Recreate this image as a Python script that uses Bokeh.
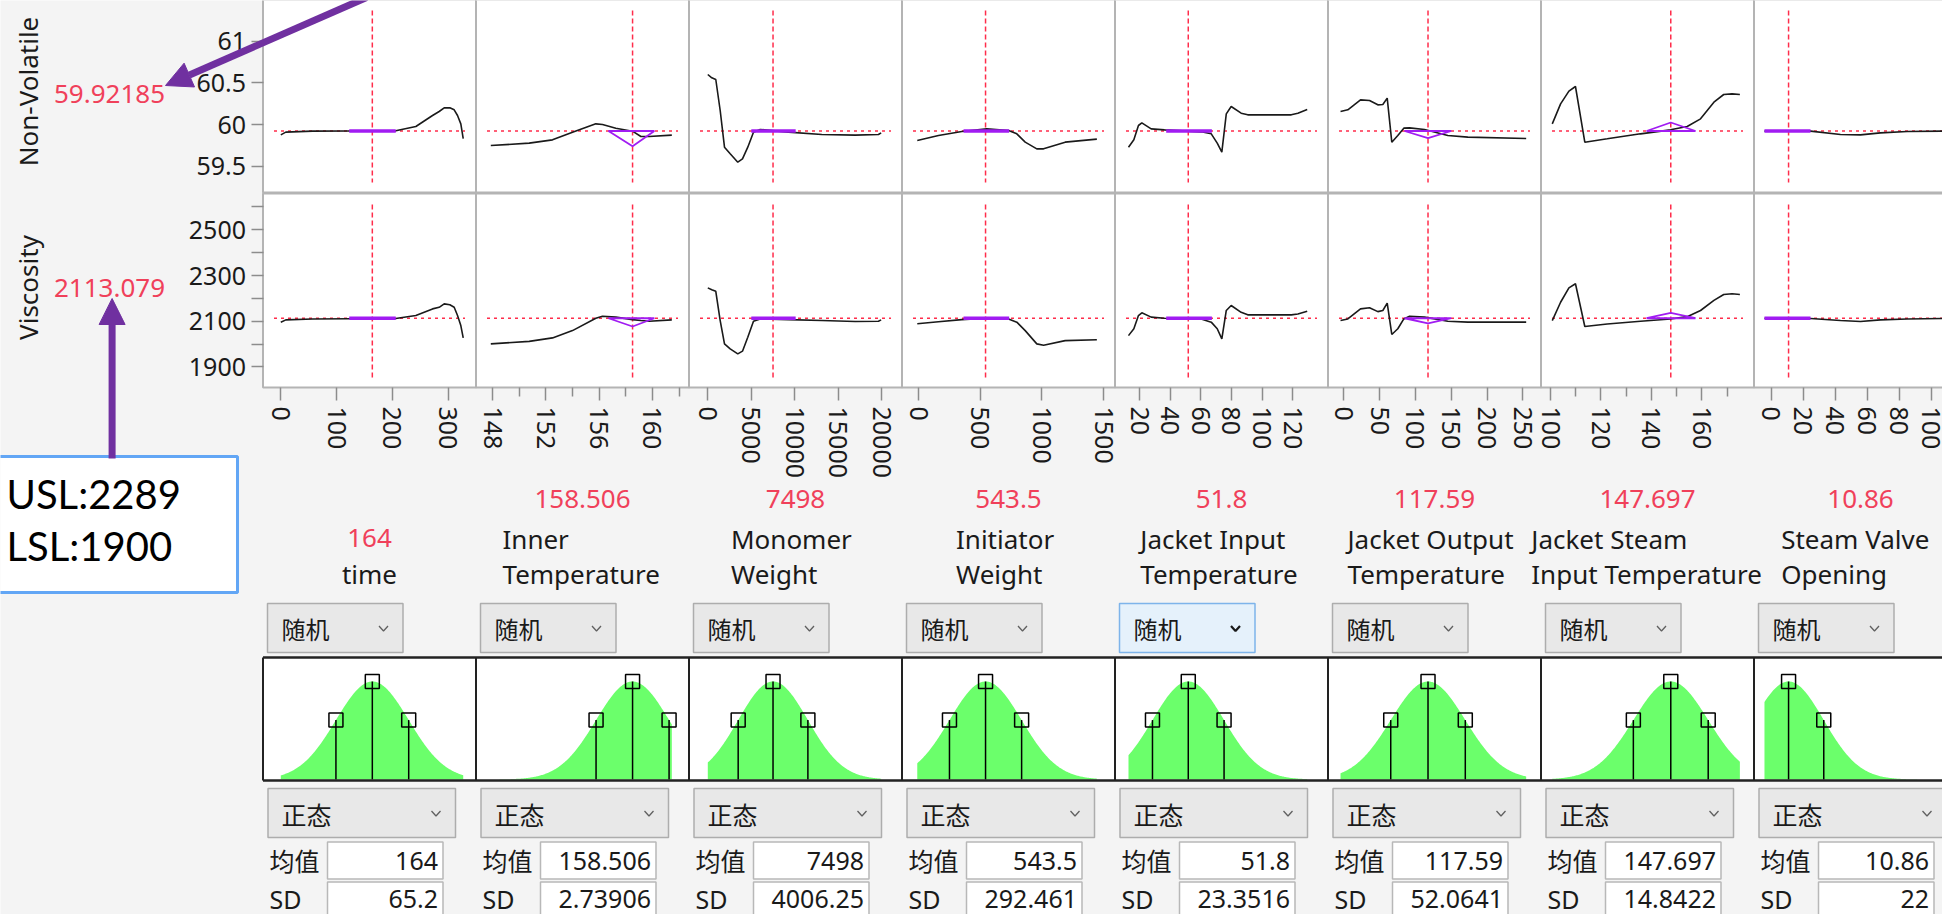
import numpy as np
from bokeh.plotting import figure
from bokeh.models import Range1d, LinearAxis, FixedTicker, Arrow, NormalHead
from bokeh.core.properties import value
from bokeh.embed import file_html
from bokeh.resources import INLINE

# ---------------- data ----------------
factor_lines = [["time"], ["Inner", "Temperature"], ["Monomer", "Weight"], ["Initiator", "Weight"],
                ["Jacket Input", "Temperature"], ["Jacket Output", "Temperature"],
                ["Jacket Steam", "Input Temperature"], ["Steam Valve", "Opening"]]
factor_current = [164, 158.506, 7498, 543.5, 51.8, 117.59, 147.697, 10.86]
factor_current_text = ["164", "158.506", "7498", "543.5", "51.8", "117.59", "147.697", "10.86"]
factor_sd = [65.2, 2.73906, 4006.25, 292.461, 23.3516, 52.0641, 14.8422, 22]
factor_sd_text = ["65.2", "2.73906", "4006.25", "292.461", "23.3516", "52.0641", "14.8422", "22"]
factor_axis_lo = [-31.9, 146.76, -2160, -133.8, 4.0, -22.1, 96.23, -10.75]
factor_axis_hi = [349.8, 162.74, 22321, 1593, 142.96, 275.4, 180.7, 122.4]
factor_major_ticks = [[0, 100, 200, 300], [148, 152, 156, 160], [0, 5000, 10000, 15000, 20000],
                      [0, 500, 1000, 1500], [20, 40, 60, 80, 100, 120], [0, 50, 100, 150, 200, 250],
                      [100, 120, 140, 160], [0, 20, 40, 60, 80, 100]]
factor_minor_ticks = [[], [150, 154, 158, 162], [], [], [], [], [110, 130, 150, 170], []]

response_names = ["Non-Volatile", "Viscosity"]
response_current = [59.92185, 2113.079]
response_current_text = ["59.92185", "2113.079"]
response_axis_lo = [59.184, 1810]
response_axis_hi = [61.5, 2659]
response_major_ticks = [[59.5, 60, 60.5, 61], [1900, 2100, 2300, 2500]]
response_tick_text = [["59.5", "60", "60.5", "61"], ["1900", "2100", "2300", "2500"]]
response_minor_ticks = [[], [2000, 2200, 2400, 2600]]

spec_usl = 2289
spec_lsl = 1900

curve_x = [
    [0, 9, 56.8, 122.6, 206, 242, 271.9, 283.8, 292.8, 302.9, 310.7, 316.7, 322.6, 326.9],
    [147.87, 150.75, 152.5, 154.0, 155.75, 156.25, 157.25, 158.5, 159.13, 159.75, 161.45],
    [0, 460, 919, 1425, 1919, 2574, 3447, 3987, 4596, 5251, 6021, 9272, 13099, 16936, 19613, 19924],
    [-10, 162, 351, 554, 730, 797, 865, 959, 1014, 1189, 1446],
    [12.8, 16.3, 19.3, 21.5, 27.6, 36.3, 60.2, 66.8, 70.7, 73.7, 76.6, 79.8, 86.3, 90.6, 119.0, 123.3, 129.4],
    [-4.6, 5.6, 23.3, 35.9, 47.5, 54.5, 60.6, 67.0, 75.4, 83.8, 91.8, 112.7, 145.3, 173.2, 254.7],
    [100.7, 104.0, 107.3, 109.9, 113.6, 122.5, 135.7, 147.6, 154.2, 159.5, 164.8, 168.7, 172.0, 175.1],
    [-4.2, 24.6, 43.3, 55.8, 68.3, 85, 107, 115],
]
curve_nv = [
    [59.876, 59.908, 59.92, 59.922, 59.925, 59.976, 60.108, 60.156, 60.2, 60.2, 60.176, 60.108, 60.008, 59.83],
    [59.748, 59.776, 59.816, 59.908, 60.008, 60.0, 59.956, 59.92, 59.856, 59.856, 59.872],
    [60.6, 60.56, 60.54, 60.168, 59.728, 59.648, 59.548, 59.588, 59.728, 59.908, 59.94, 59.908, 59.88, 59.872, 59.88, 59.9],
    [59.808, 59.868, 59.916, 59.948, 59.928, 59.888, 59.788, 59.708, 59.708, 59.788, 59.824],
    [59.728, 59.816, 59.988, 60.02, 59.948, 59.936, 59.912, 59.888, 59.776, 59.668, 60.128, 60.216, 60.136, 60.116, 60.116, 60.136, 60.18],
    [60.156, 60.176, 60.296, 60.288, 60.236, 60.24, 60.316, 59.788, 59.868, 59.956, 59.96, 59.94, 59.868, 59.848, 59.832],
    [60.008, 60.248, 60.4, 60.456, 59.788, 59.828, 59.888, 59.936, 59.976, 60.068, 60.268, 60.36, 60.368, 60.36],
    [59.92, 59.92, 59.88, 59.876, 59.9, 59.916, 59.92, 59.92],
]
curve_visc = [
    [2096, 2106, 2110, 2111, 2112, 2125, 2154, 2161, 2176, 2172, 2161, 2125, 2081, 2027],
    [2001, 2012, 2027, 2059, 2113, 2122, 2118, 2107, 2103, 2100, 2106],
    [2246, 2238, 2231, 2103, 2001, 1979, 1957, 1969, 2030, 2100, 2110, 2107, 2103, 2099, 2100, 2106],
    [2089, 2098, 2107, 2113, 2110, 2096, 2059, 2001, 1995, 2015, 2019],
    [2037, 2067, 2125, 2137, 2118, 2113, 2110, 2096, 2067, 2023, 2147, 2169, 2139, 2128, 2128, 2132, 2144],
    [2103, 2110, 2154, 2159, 2142, 2147, 2179, 2042, 2067, 2110, 2122, 2118, 2100, 2096, 2096],
    [2103, 2183, 2246, 2264, 2077, 2088, 2100, 2110, 2120, 2147, 2191, 2217, 2220, 2217],
    [2113, 2112, 2103, 2099, 2106, 2110, 2112, 2112],
]

purple_kind = ["bar", "tri", "bar", "bar", "bar", "tri", "tri", "bar"]
purple_lo = [122.6, 156.7, 5000, 365, 37.4, 84.8, 138.1, -4.2]
purple_hi = [206, 160.14, 10100, 735, 67.2, 150, 157.5, 24.6]
purple_apex_nv = [59.92185, 59.74, 59.92185, 59.92185, 59.92185, 59.836, 60.024, 59.92185]
purple_apex_visc = [2113.079, 2077, 2113.079, 2113.079, 2113.079, 2091, 2137, 2113.079]

mode_random = "随机"
mode_normal = "正态"
label_mean = "均值"
label_sd = "SD"

# ---------------- layout / style ----------------
X0, X1, Y0, Y1 = 0, 1942, 0, 914
COL_L0, COL_W, NCOL = 262.5, 213.0, 8
col_left = [COL_L0 + COL_W * i for i in range(NCOL)]
col_right = [l + COL_W for l in col_left]
col_mid = [l + COL_W / 2 for l in col_left]
ROW_PIX = [(-1.0, 192.0), (193.0, 387.0)]
DIST_TOP, DIST_BOT, DIST_ZERO, DIST_ONE = 657.0, 780.0, 779.0, 681.0
name_offset = [None, 26.5, 42, 54, 25.3, 19.5, -9.7, 27.2]
highlight_col = 4

BG = "#f4f4f4"
RED_TXT = "#f0405a"
RED_LN = "#ff2d4b"
PURPLE = "#a11cf2"
ARROW = "#7030a0"
BORDER = "#b4b4b4"
GREEN = "#6bff6b"
FONT = "Noto Sans"
CJK = "Noto Sans CJK SC"


def x_extra(lo, hi, L, R):
    k = (hi - lo) / (R - L)
    s = lo - (L - X0) * k
    return Range1d(start=s, end=s + (X1 - X0) * k)


def y_extra(lo, hi, Pt, Pb):
    k = (hi - lo) / (Pb - Pt)
    s = lo - (Y1 - Pb) * k
    return Range1d(start=s, end=s + (Y1 - Y0) * k)


p = figure(width=X1 - X0, height=Y1 - Y0, x_range=Range1d(X0, X1), y_range=Range1d(Y1, Y0),
           toolbar_location=None, output_backend="svg", x_axis_location=None, y_axis_location=None,
           min_border=0, outline_line_color=None, background_fill_color=BG, border_fill_color=BG)
p.grid.visible = False

p.extra_x_ranges = {f"x{i}": x_extra(factor_axis_lo[i], factor_axis_hi[i], col_left[i], col_right[i])
                    for i in range(NCOL)}
dist_lo = -(DIST_BOT - DIST_ZERO) / (DIST_ZERO - DIST_ONE)
dist_hi = 1 + (DIST_ONE - DIST_TOP) / (DIST_ZERO - DIST_ONE)
p.extra_y_ranges = {
    "r0": y_extra(response_axis_lo[0], response_axis_hi[0], ROW_PIX[0][0], ROW_PIX[0][1]),
    "r1": y_extra(response_axis_lo[1], response_axis_hi[1], ROW_PIX[1][0], ROW_PIX[1][1]),
    "dist": y_extra(dist_lo, dist_hi, DIST_TOP, DIST_BOT),
}

# profiler panels
for r in range(2):
    p.quad(left=col_left, right=col_right, top=[ROW_PIX[r][0]] * NCOL, bottom=[ROW_PIX[r][1]] * NCOL,
           fill_color="white", line_color=BORDER, line_width=2)

resp_curves = [curve_nv, curve_visc]
resp_apex = [purple_apex_nv, purple_apex_visc]
for i in range(NCOL):
    xr = f"x{i}"
    for r in range(2):
        yr = f"r{r}"
        p.segment(x0=[factor_current[i]], x1=[factor_current[i]], y0=[ROW_PIX[r][0] + 11], y1=[ROW_PIX[r][1] - 10],
                  x_range_name=xr, line_color=RED_LN, line_dash="5 3", line_width=1.5)
        p.segment(x0=[col_left[i] + 11], x1=[col_right[i] - 11], y0=[response_current[r]], y1=[response_current[r]],
                  y_range_name=yr, line_color=RED_LN, line_dash="3 4", line_width=1.6)
        p.line(curve_x[i], resp_curves[r][i], x_range_name=xr, y_range_name=yr, line_color="#1a1a1a", line_width=1.6)
        if purple_kind[i] == "bar":
            p.segment(x0=[purple_lo[i]], x1=[purple_hi[i]], y0=[response_current[r]], y1=[response_current[r]],
                      x_range_name=xr, y_range_name=yr, line_color=PURPLE, line_width=3.5)
        else:
            p.patch([purple_lo[i], purple_hi[i], factor_current[i]],
                    [response_current[r], response_current[r], resp_apex[r][i]],
                    x_range_name=xr, y_range_name=yr, fill_color=None, line_color=PURPLE, line_width=1.8)

# axes
for i in range(NCOL):
    ax = LinearAxis(x_range_name=f"x{i}", fixed_location=ROW_PIX[1][1],
                    bounds=(factor_axis_lo[i], factor_axis_hi[i]),
                    ticker=FixedTicker(ticks=factor_major_ticks[i], minor_ticks=factor_minor_ticks[i]),
                    major_label_orientation="vertical", axis_line_color=None,
                    major_tick_in=0, major_tick_out=13, minor_tick_in=0, minor_tick_out=9,
                    major_tick_line_color="#8c8c8c", minor_tick_line_color="#8c8c8c",
                    major_tick_line_width=1.5, minor_tick_line_width=1.5,
                    major_label_standoff=6, major_label_text_font=FONT,
                    major_label_text_font_size="25px", major_label_text_color="#1a1a1a")
    p.add_layout(ax, "below")
for r in range(2):
    ay = LinearAxis(y_range_name=f"r{r}", fixed_location=COL_L0,
                    bounds=(response_axis_lo[r], response_axis_hi[r]),
                    ticker=FixedTicker(ticks=response_major_ticks[r], minor_ticks=response_minor_ticks[r]),
                    major_label_overrides={t: s for t, s in zip(response_major_ticks[r], response_tick_text[r])},
                    axis_line_color=None, major_tick_in=0, major_tick_out=12, minor_tick_in=0, minor_tick_out=12,
                    major_tick_line_color="#8c8c8c", minor_tick_line_color="#8c8c8c",
                    major_tick_line_width=1.5, minor_tick_line_width=1.5,
                    major_label_standoff=5, major_label_text_font=FONT,
                    major_label_text_font_size="25px", major_label_text_color="#1a1a1a")
    p.add_layout(ay, "left")

# response labels
p.text(x=[27, 27], y=[91, 287], text=response_names, angle=np.pi / 2, text_align="center",
       text_baseline="middle", text_font=value(FONT), text_font_size="26px", text_color="#1a1a1a")
p.text(x=[109, 109], y=[93, 287], text=response_current_text, text_align="center", text_baseline="middle",
       text_font=value(FONT), text_font_size="26px", text_color=RED_TXT)

# factor names and current values
for i, lines in enumerate(factor_lines):
    if len(lines) == 1:
        p.text(x=[col_mid[i]], y=[573], text=lines, text_align="center", text_baseline="middle",
               text_font=value(FONT), text_font_size="26px", text_color="#1a1a1a")
        p.text(x=[col_mid[i]], y=[537], text=[factor_current_text[i]], text_align="center",
               text_baseline="middle", text_font=value(FONT), text_font_size="26px", text_color=RED_TXT)
    else:
        lx = col_left[i] + name_offset[i]
        p.text(x=[lx, lx], y=[538, 573], text=lines, text_align="left", text_baseline="middle",
               text_font=value(FONT), text_font_size="26px", text_color="#1a1a1a")
        p.text(x=[col_mid[i]], y=[498], text=[factor_current_text[i]], text_align="center",
               text_baseline="middle", text_font=value(FONT), text_font_size="26px", text_color=RED_TXT)


def chevron(cx, cy, color, width):
    p.line([cx - 4.5, cx, cx + 4.5], [cy - 2.5, cy + 2.5, cy - 2.5], line_color=color, line_width=width)


# "随机" dropdowns
for i in range(NCOL):
    hi_ = (i == highlight_col)
    p.quad(left=[col_left[i] + 4.5], right=[col_left[i] + 140], top=[603], bottom=[652],
           fill_color="#e5f1fb" if hi_ else "#e8e8e8", line_color="#7eb4ea" if hi_ else "#adadad", line_width=1.5)
    p.text(x=[col_left[i] + 18.5], y=[628], text=[mode_random], text_baseline="middle",
           text_font=value(CJK), text_font_size="24px", text_color="#1a1a1a")
    chevron(col_left[i] + 120.5, 628, "#1a1a1a" if hi_ else "#606060", 2.2 if hi_ else 1.3)

# distribution strip
p.quad(left=[COL_L0], right=[X1 + 30], top=[DIST_TOP], bottom=[DIST_BOT], fill_color="white", line_color=None)
for i in range(NCOL):
    xr = f"x{i}"
    lo, hi = min(curve_x[i]), max(curve_x[i])
    xs = np.linspace(lo, hi, 240)
    dens = np.exp(-0.5 * ((xs - factor_current[i]) / factor_sd[i]) ** 2)
    p.varea(x=xs, y1=np.zeros_like(xs), y2=dens, x_range_name=xr, y_range_name="dist", fill_color=GREEN)
    mk_x = [factor_current[i] - factor_sd[i], factor_current[i], factor_current[i] + factor_sd[i]]
    mk_y = [np.exp(-0.5), 1.0, np.exp(-0.5)]
    keep = [k for k in range(3) if factor_axis_lo[i] < mk_x[k] < factor_axis_hi[i]]
    mx = [mk_x[k] for k in keep]
    my = [mk_y[k] for k in keep]
    p.segment(x0=mx, x1=mx, y0=[0] * len(mx), y1=my, x_range_name=xr, y_range_name="dist",
              line_color="black", line_width=1.5)
    p.scatter(mx, my, marker="square", size=14, fill_color=None, line_color="black", line_width=1.5,
              x_range_name=xr, y_range_name="dist")
p.segment(x0=col_left, x1=col_left, y0=[DIST_TOP] * NCOL, y1=[DIST_BOT] * NCOL, line_color="#222", line_width=2)
p.segment(x0=[COL_L0, COL_L0], x1=[X1 + 30, X1 + 30], y0=[DIST_TOP, DIST_BOT], y1=[DIST_TOP, DIST_BOT],
          line_color="#222", line_width=2.5)

# "正态" dropdowns and mean/sd boxes
for i in range(NCOL):
    L = col_left[i]
    p.quad(left=[L + 5], right=[L + 192.5], top=[788], bottom=[837], fill_color="#e8e8e8",
           line_color="#adadad", line_width=1.5)
    p.text(x=[L + 18.5], y=[813], text=[mode_normal], text_baseline="middle",
           text_font=value(CJK), text_font_size="25px", text_color="#1a1a1a")
    chevron(L + 173, 813, "#606060", 1.3)
    p.quad(left=[L + 64.5, L + 64.5], right=[L + 180, L + 180], top=[841.5, 881.5], bottom=[878.5, 918],
           fill_color="white", line_color="#b8b8b8", line_width=1.5)
    p.text(x=[L + 6.5], y=[859], text=[label_mean], text_baseline="middle",
           text_font=value(CJK), text_font_size="25px", text_color="#1a1a1a")
    p.text(x=[L + 6.5], y=[898], text=[label_sd], text_baseline="middle",
           text_font=value(FONT), text_font_size="25px", text_color="#1a1a1a")
    p.text(x=[L + 175, L + 175], y=[860, 898], text=[factor_current_text[i], factor_sd_text[i]],
           text_align="right", text_baseline="middle", text_font=value(FONT), text_font_size="25px",
           text_color="#1a1a1a")

# annotation box and arrows
p.quad(left=[-5], right=[237], top=[456], bottom=[592], fill_color="white", line_color="#62a6f5", line_width=3)
p.text(x=[6, 6], y=[493, 545], text=[f"USL:{spec_usl}", f"LSL:{spec_lsl}"], text_baseline="middle",
       text_font=value("Lato"), text_font_size="40px", text_color="black")
p.add_layout(Arrow(end=NormalHead(size=26, fill_color=ARROW, line_color=ARROW), x_start=366, y_start=-3,
                   x_end=165, y_end=85, line_color=ARROW, line_width=7))
p.add_layout(Arrow(end=NormalHead(size=26, fill_color=ARROW, line_color=ARROW), x_start=111.6, y_start=458,
                   x_end=111.6, y_end=298, line_color=ARROW, line_width=7))

open("out.html", "w").write(file_html(p, INLINE))
